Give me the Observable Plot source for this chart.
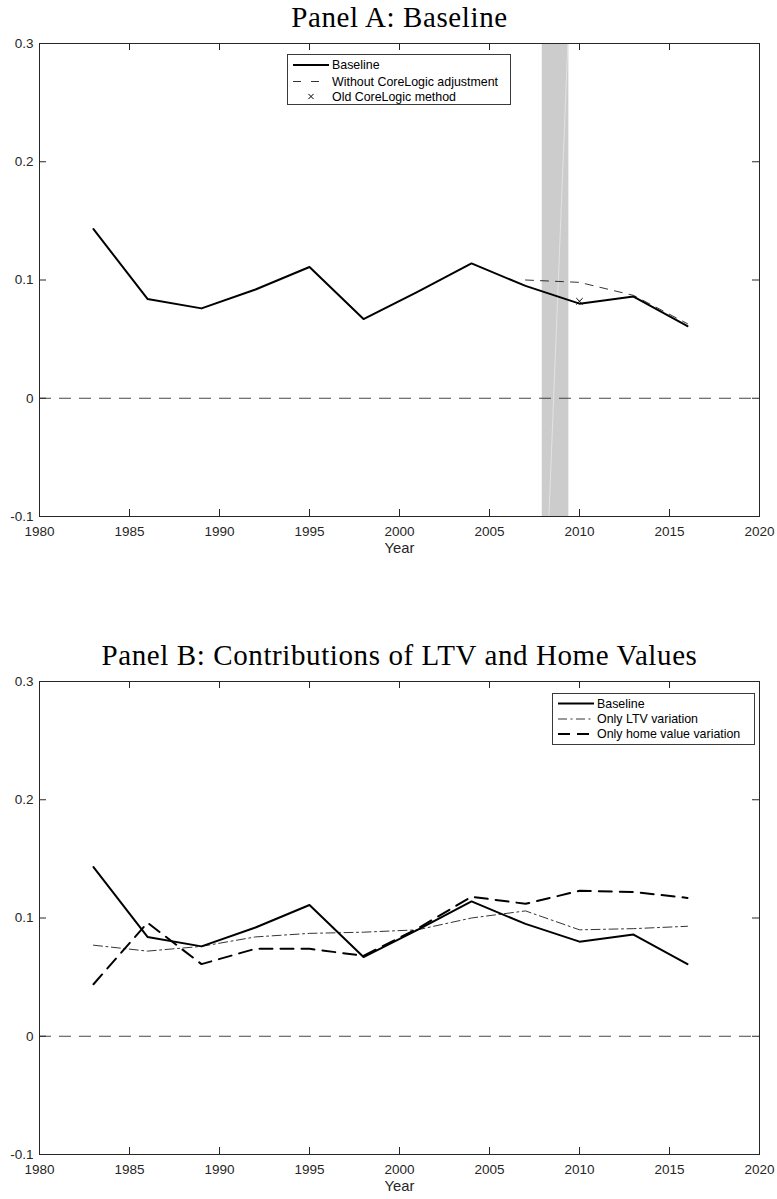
<!DOCTYPE html>
<html><head><meta charset="utf-8">
<script src="https://cdn.jsdelivr.net/npm/d3@7"></script>
<script src="https://cdn.jsdelivr.net/npm/@observablehq/plot@0.6"></script>
<style>
body{margin:0;background:#fff;}
#wrap{position:relative;width:777px;height:1199px;overflow:hidden;background:#fff;}
#wrap svg.plot{display:block;}
.legend{position:absolute;background:#fff;border:1px solid #3a3a3a;box-sizing:border-box;}
.legend svg{display:block;}
</style></head>
<body><div id="wrap"></div>
<script>
// ---------- data ----------
const years = [1983, 1986, 1989, 1992, 1995, 1998, 2001, 2004, 2007, 2010, 2013, 2016];
const baseline = [0.143, 0.084, 0.076, 0.092, 0.111, 0.067, 0.090, 0.114, 0.095, 0.080, 0.086, 0.061];
const noAdjYears = [2007, 2010, 2013, 2016];
const noAdjValues = [0.100, 0.098, 0.087, 0.063];
const oldMethodYears = [2010];
const oldMethodValues = [0.082];
const ltvOnly = [0.077, 0.072, 0.076, 0.084, 0.087, 0.088, 0.090, 0.100, 0.106, 0.090, 0.091, 0.093];
const homeOnly = [0.044, 0.096, 0.061, 0.074, 0.074, 0.068, 0.091, 0.118, 0.112, 0.123, 0.122, 0.117];
const recessionStart = [2007.93];
const recessionEnd = [2009.41];
const recessionEdgeX = [2008.3, 2009.35];
const recessionEdgeY = [-0.1, 0.3];
const xTicks = [1980, 1985, 1990, 1995, 2000, 2005, 2010, 2015, 2020];
const xTickLabels = ["1980", "1985", "1990", "1995", "2000", "2005", "2010", "2015", "2020"];
const yTicks = [-0.1, 0, 0.1, 0.2, 0.3];
const yTickLabels = ["-0.1", "0", "0.1", "0.2", "0.3"];
const titles = ["Panel A: Baseline", "Panel B: Contributions of LTV and Home Values"];
const xLabel = "Year";
const legendA = ["Baseline", "Without CoreLogic adjustment", "Old CoreLogic method"];
const legendB = ["Baseline", "Only LTV variation", "Only home value variation"];

// ---------- tables ----------
const base = years.map((y, i) => ({year: y, value: baseline[i]}));
const noAdj = noAdjYears.map((y, i) => ({year: y, value: noAdjValues[i]}));
const oldM = oldMethodYears.map((y, i) => ({year: y, value: oldMethodValues[i]}));
const ltv = years.map((y, i) => ({year: y, value: ltvOnly[i]}));
const home = years.map((y, i) => ({year: y, value: homeOnly[i]}));
const recession = recessionStart.map((s, i) => ({start: s, end: recessionEnd[i]}));
const recEdge = recessionEdgeX.map((x, i) => ({x, y: recessionEdgeY[i]}));

const W = 777, ML = 39, MR = 18, MT = 43;
const FW = W - ML - MR, FH = 473, TICK = 7;
const AX = "#262626";
const SANS = "Liberation Sans, Arial, Helvetica, sans-serif";

function frameMarks(title) {
  return [
    Plot.ruleY([0], {stroke: "#333", strokeWidth: 0.9, strokeDasharray: "12,8"}),
    Plot.ruleX(xTicks, {stroke: AX, insetTop: FH - TICK}),
    Plot.ruleX(xTicks, {stroke: AX, insetBottom: FH - TICK}),
    Plot.ruleY(yTicks, {stroke: AX, insetRight: FW - TICK}),
    Plot.ruleY(yTicks, {stroke: AX, insetLeft: FW - TICK}),
    Plot.frame({stroke: AX, strokeWidth: 1}),
    Plot.axisX(xTicks, {tickSize: 0, tickPadding: 10, fontSize: 13.5, fill: AX,
      tickFormat: d => xTickLabels[xTicks.indexOf(d)], label: null}),
    Plot.axisY(yTicks, {tickSize: 0, tickPadding: 6, fontSize: 13.5, fill: AX,
      tickFormat: d => yTickLabels[yTicks.indexOf(d)], label: null}),
    Plot.text([xLabel], {frameAnchor: "bottom", dy: 32, fontSize: 14.8, fill: AX, lineAnchor: "middle"}),
    Plot.text([title], {frameAnchor: "top", dy: -26, fontSize: 29, fill: "#000", lineAnchor: "middle",
      fontFamily: "Liberation Serif, Times New Roman, serif"})
  ];
}

function common(height, mb, marks) {
  return Plot.plot({
    width: W, height, marginLeft: ML, marginRight: MR, marginTop: MT, marginBottom: mb,
    x: {domain: [1980, 2020], axis: null},
    y: {domain: [-0.1, 0.3], axis: null},
    style: {fontFamily: SANS, fontSize: "13.5px", background: "#fff", color: AX, overflow: "visible"},
    className: "plot",
    marks
  });
}

const plotA = common(638, 122, [
  Plot.rect(recession, {x1: "start", x2: "end", fill: "#cccccc"}),
  Plot.line(recEdge, {x: "x", y: "y", stroke: "#e2e2e2", strokeWidth: 1}),
  ...frameMarks(titles[0]),
  Plot.line(noAdj, {x: "year", y: "value", stroke: "#000", strokeWidth: 0.8, strokeDasharray: "8,7"}),
  Plot.line(base, {x: "year", y: "value", stroke: "#000", strokeWidth: 2}),
  Plot.dot(oldM, {x: "year", y: "value", symbol: "times", r: 3, stroke: "#000", strokeWidth: 1})
]);

const plotB = common(561, 45, [
  ...frameMarks(titles[1]),
  Plot.line(ltv, {x: "year", y: "value", stroke: "#000", strokeWidth: 0.8, strokeDasharray: "9,3.5,2,3.5"}),
  Plot.line(home, {x: "year", y: "value", stroke: "#000", strokeWidth: 2, strokeDasharray: "13,8"}),
  Plot.line(base, {x: "year", y: "value", stroke: "#000", strokeWidth: 2})
]);

// title letter spacing to approximate Computer Modern width
[plotA, plotB].forEach((p, i) => {
  d3.select(p).selectAll("text").filter(function() { return this.textContent === titles[i]; })
    .attr("letter-spacing", "0.6");
});

const wrap = document.getElementById("wrap");
wrap.appendChild(plotA);
wrap.appendChild(plotB);

function legend(labels, styles, left, top, width, height, rows) {
  const div = document.createElement("div");
  div.className = "legend";
  Object.assign(div.style, {left: left + "px", top: top + "px", width: width + "px", height: height + "px"});
  const ns = "http://www.w3.org/2000/svg";
  const svg = document.createElementNS(ns, "svg");
  svg.setAttribute("width", width - 2);
  svg.setAttribute("height", height - 2);
  labels.forEach((lab, i) => {
    const y = rows[i];
    const s = styles[i];
    if (s.marker) {
      const m = document.createElementNS(ns, "path");
      const cx = 23, r = 2.6;
      m.setAttribute("d", `M${cx - r},${y - r}L${cx + r},${y + r}M${cx - r},${y + r}L${cx + r},${y - r}`);
      m.setAttribute("stroke", "#000"); m.setAttribute("stroke-width", 1);
      svg.appendChild(m);
    } else {
      const l = document.createElementNS(ns, "line");
      l.setAttribute("x1", 5); l.setAttribute("x2", 41);
      l.setAttribute("y1", y); l.setAttribute("y2", y);
      l.setAttribute("stroke", "#000"); l.setAttribute("stroke-width", s.w);
      if (s.dash) l.setAttribute("stroke-dasharray", s.dash);
      svg.appendChild(l);
    }
    const t = document.createElementNS(ns, "text");
    t.setAttribute("x", 44); t.setAttribute("y", y);
    t.setAttribute("dy", "0.35em");
    t.setAttribute("font-family", SANS);
    t.setAttribute("font-size", "12.4px");
    t.setAttribute("fill", "#000");
    t.textContent = lab;
    svg.appendChild(t);
  });
  div.appendChild(svg);
  wrap.appendChild(div);
}

legend(legendA, [{w: 2}, {w: 0.8, dash: "8,10"}, {marker: true}], 287, 54, 224, 51, [10, 26.5, 41.5]);
legend(legendB, [{w: 2}, {w: 0.8, dash: "9,3.5,2,3.5"}, {w: 2, dash: "12,7"}], 552, 693, 203, 52, [9.5, 25, 40]);
</script>
</body></html>
